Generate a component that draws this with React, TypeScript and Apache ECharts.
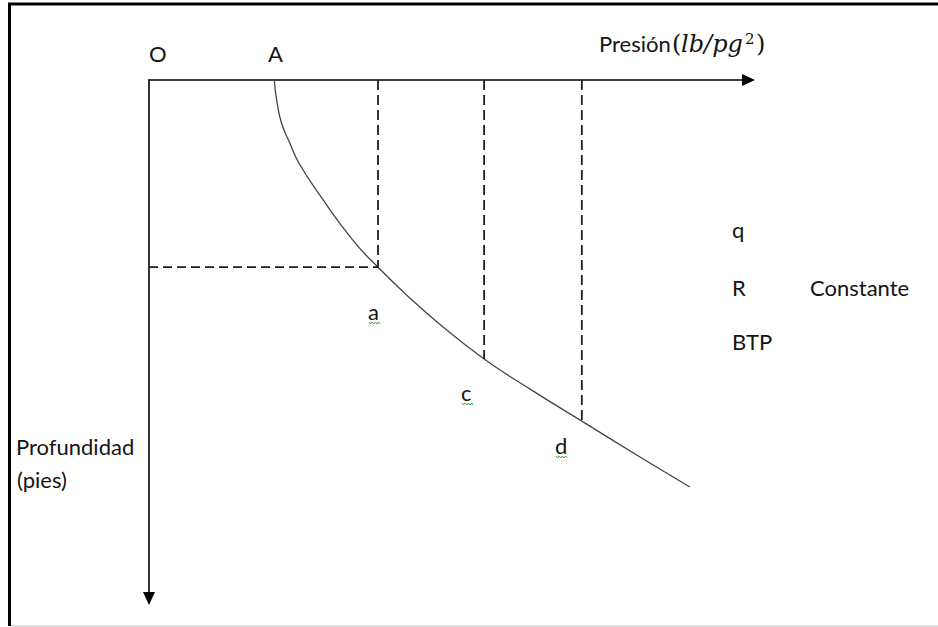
import React, { useEffect, useRef } from "react";
import * as echarts from "echarts";

// Curve: pressure (x) vs depth (y, downwards), arbitrary units 0..100
const curvePressure = [20.9, 21.3, 22.1, 23.5, 25.0, 28.5, 34.0, 38.2, 43.0, 48.5, 55.9, 64.1, 72.2, 81.9, 90.2];
const curveDepth = [0, 3.9, 8.3, 12.2, 16.0, 22.2, 30.9, 36.1, 41.5, 47.1, 53.8, 60.0, 65.8, 72.7, 78.5];

// Marked points on the curve (a, c, d)
const pointNames = ["a", "c", "d"];
const pointPressure = [38.2, 55.9, 72.2];
const pointDepth = [36.1, 53.8, 65.8];

const xAxisTitle = "Presión";
const yAxisTitle = ["Profundidad", "(pies)"];
const constantVars = ["q", "R", "BTP"];
const constantLabel = "Constante";

const SANS = "Lato, 'Open Sans', sans-serif";
const SERIF = "'DejaVu Serif', serif";
const TXT = "#141414";

function squiggle(x0: number, y: number, w: number) {
  const pts: number[][] = [];
  let up = true;
  for (let x = x0; x <= x0 + w; x += 1.6) {
    pts.push([x, up ? y - 1 : y + 1]);
    up = !up;
  }
  return pts;
}

function text(t: string, x: number, y: number, font: string, extra: any = {}) {
  return {
    type: "text",
    x,
    y,
    silent: true,
    style: { text: t, font, fill: TXT, textAlign: "left", textVerticalAlign: "middle", verticalAlign: "middle", ...extra },
  };
}

export default function App() {
  const ref = useRef<HTMLDivElement>(null);
  useEffect(() => {
    if (!ref.current) return;
    const chart = echarts.init(ref.current, undefined, { renderer: "svg" });

    const curve = curvePressure.map((p, i) => [p, curveDepth[i]]);
    const dashStyle = { color: "#1e1e1e", width: 1.8, type: [10, 5] };
    const dashed: any[] = pointPressure.map((p, i) => ({
      type: "line",
      data: [[p, 0], [p, pointDepth[i]]],
      showSymbol: false,
      silent: true,
      lineStyle: dashStyle,
    }));
    dashed.push({
      type: "line",
      data: [[0, pointDepth[0]], [pointPressure[0], pointDepth[0]]],
      showSymbol: false,
      silent: true,
      lineStyle: { ...dashStyle, type: [9, 5] },
    });

    const labelPos = [
      [368, 311],
      [461, 392],
      [555, 445],
    ];
    const pointLabels: any[] = [];
    pointNames.forEach((n, i) => {
      pointLabels.push(text(n, labelPos[i][0], labelPos[i][1], `22px ${SANS}`));
      pointLabels.push({
        type: "polyline",
        silent: true,
        shape: { points: squiggle(labelPos[i][0] + 1, labelPos[i][1] + 12, 12) },
        style: { stroke: "#3aa53a", lineWidth: 1, fill: null },
      });
    });

    const constY = [229, 287.5, 341];

    chart.setOption({
      animation: false,
      backgroundColor: "#ffffff",
      grid: { left: 149, top: 80, right: 189.5, bottom: 28.5 },
      xAxis: {
        type: "value",
        position: "top",
        min: 0,
        max: 100,
        axisLine: {
          show: true,
          onZero: false,
          symbol: ["none", "triangle"],
          symbolSize: [12, 13],
          lineStyle: { color: "#000", width: 1.6 },
        },
        axisTick: { show: false },
        axisLabel: { show: false },
        splitLine: { show: false },
      },
      yAxis: {
        type: "value",
        inverse: true,
        min: 0,
        max: 100,
        axisLine: {
          show: true,
          onZero: false,
          symbol: ["triangle", "none"],
          symbolSize: [12, 13],
          lineStyle: { color: "#000", width: 1.6 },
        },
        axisTick: { show: false },
        axisLabel: { show: false },
        splitLine: { show: false },
      },
      series: [
        {
          type: "line",
          data: curve,
          smooth: 0.5,
          showSymbol: false,
          silent: true,
          lineStyle: { color: "#454545", width: 1.3 },
          z: 3,
        },
        ...dashed,
      ],
      graphic: [
        // frame
        { type: "line", silent: true, shape: { x1: 9.5, y1: 3, x2: 9.5, y2: 626 }, style: { stroke: "#000", lineWidth: 3 } },
        { type: "line", silent: true, shape: { x1: 8, y1: 4, x2: 938, y2: 4 }, style: { stroke: "#000", lineWidth: 3 } },
        { type: "line", silent: true, shape: { x1: 11, y1: 626, x2: 938, y2: 626 }, style: { stroke: "#d4d4d4", lineWidth: 1.5 } },
        text("O", 149, 53, `22px ${SANS}`),
        text("A", 268, 53, `22px ${SANS}`),
        text(xAxisTitle, 599, 43, `22px ${SANS}`),
        text("(", 672, 44, `24px ${SERIF}`),
        text("lb/pg", 681, 44, `italic 24px ${SERIF}`),
        text("2", 745, 39, `15px ${SERIF}`),
        text(")", 756, 44, `24px ${SERIF}`),
        ...constantVars.map((v, i) => text(v, 732, constY[i], `22px ${SANS}`)),
        text(constantLabel, 810, constY[1], `22px ${SANS}`),
        ...pointLabels,
        text(yAxisTitle[0], 16, 446, `22px ${SANS}`),
        text(yAxisTitle[1], 17, 479, `22px ${SANS}`),
      ],
    });
    return () => chart.dispose();
  }, []);
  return (
    <div
      ref={ref}
      style={{ position: "absolute", left: 0, top: 0, width: 938, height: 627, background: "#fff" }}
    />
  );
}
